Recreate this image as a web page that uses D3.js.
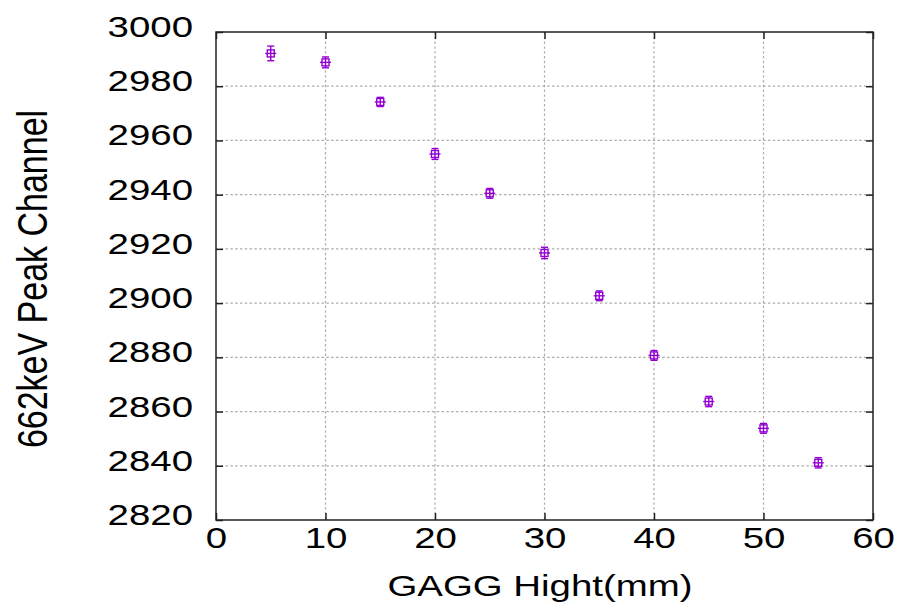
<!DOCTYPE html>
<html>
<head>
<meta charset="utf-8">
<script src="https://cdn.jsdelivr.net/npm/d3@7"></script>
<style>
  html, body { margin: 0; padding: 0; background: #fff; }
  svg text { font-family: "Liberation Sans", Arial, sans-serif; fill: #000; }
</style>
</head>
<body>
<svg id="chart" width="900" height="605"></svg>
<script>
// GAGG crystal height (mm) vs. 662 keV photopeak channel
const heights = [5, 10, 15, 20, 25, 30, 35, 40, 45, 50, 55];
const peaks   = [2992.1, 2988.8, 2974.2, 2955.0, 2940.5, 2918.5, 2902.7, 2880.7, 2863.7, 2853.8, 2841.1];
const errors  = [2.7, 2.0, 1.7, 2.0, 1.8, 2.1, 1.8, 1.8, 1.9, 1.8, 1.9];

const xTicks = [0, 10, 20, 30, 40, 50, 60];
const yTicks = [2820, 2840, 2860, 2880, 2900, 2920, 2940, 2960, 2980, 3000];

const xTitle = "GAGG Hight(mm)";
const yTitle = "662keV Peak Channel";

const plot = { left: 216, right: 873, top: 32, bottom: 520 };
const stretch = 1.28;       // horizontal widening of the label glyphs
const markColor = "#9400d3";

const svg = d3.select("#chart");

const x = d3.scaleLinear().domain([0, 60]).range([plot.left, plot.right]);
const y = d3.scaleLinear().domain([2820, 3000]).range([plot.bottom, plot.top]);

// dotted grid
const grid = svg.append("g").attr("class", "grid")
  .attr("stroke", "#ababab").attr("stroke-width", 1.2).attr("stroke-dasharray", "2.4,2.4");
grid.selectAll("line.h").data(yTicks.slice(1, -1)).join("line")
  .attr("class", "h")
  .attr("x1", plot.left).attr("x2", plot.right)
  .attr("y1", d => y(d)).attr("y2", d => y(d));
grid.selectAll("line.v").data(xTicks.slice(1, -1)).join("line")
  .attr("class", "v")
  .attr("y1", plot.top).attr("y2", plot.bottom)
  .attr("x1", d => x(d)).attr("x2", d => x(d));

// axes with inward ticks
const tickLen = 7;
const axisFont = 30;
const fmt = d3.format("d");

const gx = svg.append("g").attr("transform", `translate(0,${plot.bottom})`)
  .call(d3.axisBottom(x).tickValues(xTicks).tickFormat(fmt).tickSizeInner(-tickLen).tickSizeOuter(0).tickPadding(7));
const gy = svg.append("g").attr("transform", `translate(${plot.left},0)`)
  .call(d3.axisLeft(y).tickValues(yTicks).tickFormat(fmt).tickSizeInner(-tickLen).tickSizeOuter(0).tickPadding(23));
const gx2 = svg.append("g").attr("transform", `translate(0,${plot.top})`)
  .call(d3.axisTop(x).tickValues(xTicks).tickSizeInner(-tickLen).tickSizeOuter(0).tickFormat(""));
const gy2 = svg.append("g").attr("transform", `translate(${plot.right},0)`)
  .call(d3.axisRight(y).tickValues(yTicks).tickSizeInner(-tickLen).tickSizeOuter(0).tickFormat(""));

[gx, gy, gx2, gy2].forEach(g => {
  g.select(".domain").remove();
  g.selectAll(".tick line").attr("stroke", "#222").attr("stroke-width", 1.5);
  g.selectAll("text").attr("font-size", axisFont).attr("font-family", "Liberation Sans, Arial, sans-serif").attr("fill", "#000");
});
gx.selectAll("text").attr("dy", "0.71em");
gy.selectAll("text").attr("dy", "0.15em");

// plot border
svg.append("rect")
  .attr("x", plot.left).attr("y", plot.top)
  .attr("width", plot.right - plot.left).attr("height", plot.bottom - plot.top)
  .attr("fill", "none").attr("stroke", "#222").attr("stroke-width", 1.5);

// error bars and open square markers
const pts = heights.map((h, i) => ({ h, p: peaks[i], e: errors[i] }));
const marks = svg.append("g").attr("stroke", markColor).attr("stroke-width", 1.4).attr("fill", "none");
const pg = marks.selectAll("g").data(pts).join("g")
  .attr("transform", d => `translate(${x(d.h)},${y(d.p)})`);
pg.append("line").attr("x1", 0).attr("x2", 0)
  .attr("y1", d => y(d.p + d.e) - y(d.p)).attr("y2", d => y(d.p - d.e) - y(d.p));
pg.append("line").attr("x1", -3.5).attr("x2", 3.5)
  .attr("y1", d => y(d.p + d.e) - y(d.p)).attr("y2", d => y(d.p + d.e) - y(d.p));
pg.append("line").attr("x1", -3.5).attr("x2", 3.5)
  .attr("y1", d => y(d.p - d.e) - y(d.p)).attr("y2", d => y(d.p - d.e) - y(d.p));
pg.append("line").attr("x1", -5.5).attr("x2", 5.5).attr("y1", 0).attr("y2", 0);
pg.append("rect").attr("x", -3.5).attr("y", -3.5).attr("width", 7).attr("height", 7);

// axis titles
svg.append("text")
  .attr("class", "xtitle")
  .attr("x", 540).attr("y", 596)
  .attr("text-anchor", "middle")
  .attr("font-size", 30)
  .text(xTitle);

svg.append("text")
  .attr("transform", `translate(46.5,279) scale(${stretch * 0.98},1) rotate(-90)`)
  .attr("text-anchor", "middle")
  .attr("font-size", 34)
  .text(yTitle);

// widen horizontal label glyphs
svg.selectAll(".tick text, text.xtitle").each(function () {
  const len = this.getComputedTextLength();
  if (len > 0) {
    d3.select(this).attr("textLength", len * stretch).attr("lengthAdjust", "spacingAndGlyphs");
  }
});
</script>
</body>
</html>
